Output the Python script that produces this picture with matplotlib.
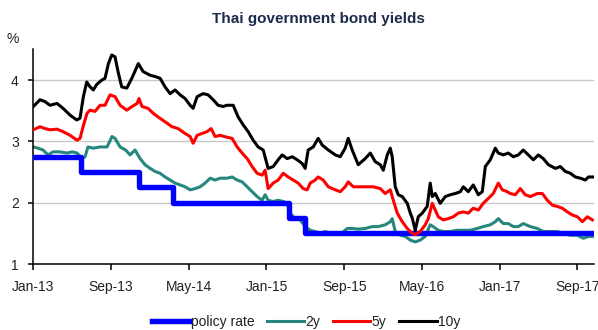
import matplotlib
matplotlib.use('Agg')
import matplotlib.pyplot as plt

plt.rcParams['font.family'] = ['Liberation Sans', 'DejaVu Sans']

# x values: months since Jan-2013
tick_pos = [0, 8, 16, 24, 32, 40, 48, 56]
tick_labels = ['Jan-13', 'Sep-13', 'May-14', 'Jan-15', 'Sep-15', 'May-16', 'Jan-17', 'Sep-17']

# policy rate steps
policy_t = [0.0, 4.93, 10.87, 14.37, 26.33, 27.93, 57.64]
policy_v = [2.75, 2.50, 2.25, 2.00, 1.75, 1.50, 1.50]

# 10y yield
y10_t = [0.0, 0.69, 1.2, 1.72, 2.44, 3.06, 3.78, 4.47, 4.81, 5.15, 5.5, 5.84, 6.18, 6.53, 7.04,
         7.38, 7.73, 8.07, 8.41, 8.76, 9.1, 9.62, 10.14, 10.81, 11.3, 12.02, 12.53, 13.05, 13.56,
         14.08, 14.59, 15.11, 15.62, 16.14, 16.45, 16.86, 17.48, 17.99, 18.51, 19.02, 19.54, 19.92,
         20.57, 21.08, 21.6, 22.11, 22.63, 23.14, 23.66, 24.17, 24.69, 25.2, 25.61, 26.13, 26.65,
         27.16, 27.67, 27.98, 28.29, 28.81, 29.32, 29.74, 30.36, 31.08, 31.59, 32.1, 32.41, 32.82,
         33.44, 34.16, 34.68, 35.19, 35.71, 36.02, 36.43, 36.74, 36.94, 37.25, 37.56, 37.97, 38.49,
         38.8, 39.0, 39.31, 39.62, 40.03, 40.54, 40.85, 41.06, 41.37, 41.88, 42.4, 42.91, 43.43,
         43.95, 44.26, 44.77, 45.28, 45.8, 46.21, 46.52, 47.03, 47.55, 47.86, 48.37, 48.89, 49.4,
         49.92, 50.43, 50.95, 51.46, 51.98, 52.49, 53.01, 53.73, 54.24, 54.76, 55.27, 55.79, 56.3,
         56.82, 57.13, 57.64]
y10_v = [3.57, 3.68, 3.65, 3.59, 3.62, 3.54, 3.43, 3.35, 3.38, 3.73, 3.97, 3.89, 3.84, 3.93, 4.0,
         4.03, 4.27, 4.41, 4.38, 4.11, 3.89, 3.87, 4.03, 4.27, 4.14, 4.08, 4.06, 4.03, 3.89,
         3.78, 3.84, 3.76, 3.70, 3.59, 3.54, 3.73, 3.78, 3.76, 3.68, 3.59, 3.57, 3.59,
         3.59, 3.40, 3.27, 3.16, 3.02, 2.91, 2.86, 2.56, 2.59, 2.70, 2.78, 2.72, 2.75,
         2.70, 2.64, 2.56, 2.86, 2.91, 3.05, 2.94, 2.86, 2.78, 2.75, 2.89, 3.05, 2.86,
         2.62, 2.72, 2.81, 2.67, 2.62, 2.53, 2.78, 2.89, 2.75, 2.26, 2.13, 2.10, 1.99,
         1.83, 1.75, 1.55, 1.77, 1.83, 1.94, 2.32, 2.10, 2.15, 1.99, 2.10, 2.13, 2.15,
         2.18, 2.26, 2.18, 2.29, 2.13, 2.18, 2.59, 2.70, 2.89, 2.81, 2.78, 2.81, 2.75,
         2.78, 2.86, 2.78, 2.70, 2.78, 2.72, 2.62, 2.56, 2.59, 2.51, 2.48, 2.42, 2.40,
         2.37, 2.42, 2.42]

# 5y yield
y5_t = [0.0, 0.69, 1.2, 1.72, 2.44, 3.06, 3.78, 4.5, 4.81, 5.12, 5.53, 5.84, 6.35, 6.87, 7.38,
        7.9, 8.41, 8.93, 9.62, 10.16, 10.68, 10.88, 11.19, 11.81, 12.33, 12.84, 13.56, 14.28,
        14.9, 15.62, 16.14, 16.45, 16.86, 17.37, 17.89, 18.3, 18.71, 19.23, 19.64, 20.46, 20.98,
        21.49, 22.01, 22.52, 23.04, 23.55, 23.86, 24.17, 24.69, 25.2, 25.72, 26.23, 26.75, 27.26,
        27.78, 28.19, 28.5, 29.01, 29.32, 29.84, 30.36, 31.08, 31.59, 32.1, 32.41, 32.93, 33.65,
        34.37, 34.99, 35.71, 36.22, 36.74, 37.05, 37.46, 37.97, 38.49, 39.0, 39.31, 39.82, 40.34,
        40.65, 41.06, 41.37, 41.68, 42.19, 42.71, 43.22, 43.74, 44.26, 44.77, 45.28, 45.8, 46.31,
        46.83, 47.34, 47.86, 48.27, 48.78, 49.09, 49.61, 50.12, 50.64, 51.15, 51.87, 52.39, 52.9,
        53.42, 53.93, 54.45, 54.96, 55.48, 55.99, 56.51, 57.02, 57.54]
y5_v = [3.19, 3.24, 3.21, 3.19, 3.20, 3.16, 3.10, 3.02, 3.05, 3.24, 3.46, 3.51, 3.49, 3.59, 3.59,
        3.76, 3.73, 3.59, 3.51, 3.57, 3.62, 3.70, 3.57, 3.54, 3.46, 3.40, 3.32, 3.24,
        3.21, 3.13, 3.08, 2.97, 3.10, 3.13, 3.16, 3.21, 3.08, 3.10, 3.08, 3.05, 2.91,
        2.81, 2.72, 2.59, 2.48, 2.45, 2.53, 2.23, 2.32, 2.37, 2.48, 2.42, 2.37, 2.32,
        2.23, 2.21, 2.32, 2.37, 2.42, 2.37, 2.26, 2.21, 2.18, 2.26, 2.34, 2.26, 2.26,
        2.26, 2.26, 2.23, 2.15, 2.21, 2.04, 1.83, 1.69, 1.58, 1.50, 1.48, 1.53, 1.64,
        1.74, 1.99, 1.88, 1.77, 1.72, 1.74, 1.77, 1.83, 1.85, 1.83, 1.91, 1.88, 1.99,
        2.07, 2.15, 2.32, 2.21, 2.18, 2.15, 2.13, 2.23, 2.13, 2.10, 2.15, 2.15, 2.04,
        1.96, 1.94, 1.91, 1.85, 1.80, 1.77, 1.69, 1.77, 1.72]

# 2y yield
y2_t = [0.0, 0.48, 1.0, 1.51, 2.03, 2.75, 3.47, 3.99, 4.5, 5.02, 5.32, 5.63, 6.15, 6.87, 7.59,
        8.1, 8.41, 8.93, 9.5, 9.96, 10.47, 10.99, 11.5, 12.02, 12.53, 13.05, 13.56, 14.08, 14.59,
        15.11, 15.62, 16.14, 16.65, 17.17, 17.68, 18.2, 18.71, 19.23, 19.95, 20.46, 20.98, 21.49,
        22.01, 22.52, 23.04, 23.55, 23.86, 24.17, 24.69, 25.2, 25.72, 26.13, 26.44, 26.95, 27.47,
        27.98, 28.5, 29.01, 29.53, 30.05, 30.56, 31.08, 31.8, 32.31, 32.82, 33.44, 34.16, 34.88,
        35.5, 36.22, 36.74, 36.94, 37.25, 37.77, 38.28, 38.8, 39.31, 39.82, 40.34, 40.85, 41.16,
        41.68, 42.19, 42.91, 43.64, 44.26, 44.97, 45.69, 46.31, 47.03, 47.55, 47.86, 48.37, 48.89,
        49.4, 49.92, 50.43, 51.15, 51.87, 52.49, 53.21, 53.93, 54.55, 55.27, 55.99, 56.61, 57.13,
        57.64]
y2_v = [2.91, 2.89, 2.86, 2.78, 2.83, 2.83, 2.81, 2.83, 2.81, 2.72, 2.75, 2.91, 2.89, 2.91, 2.91,
        3.08, 3.05, 2.91, 2.86, 2.78, 2.86, 2.72, 2.62, 2.56, 2.51, 2.48, 2.42, 2.37, 2.32,
        2.29, 2.26, 2.21, 2.23, 2.26, 2.32, 2.40, 2.37, 2.40, 2.40, 2.42, 2.37, 2.34,
        2.26, 2.18, 2.10, 2.04, 2.13, 2.04, 2.02, 2.04, 2.02, 1.99, 1.83, 1.74, 1.72,
        1.61, 1.55, 1.53, 1.50, 1.53, 1.50, 1.50, 1.51, 1.58, 1.58, 1.57, 1.58, 1.61,
        1.61, 1.64, 1.69, 1.74, 1.53, 1.47, 1.45, 1.39, 1.36, 1.39, 1.45, 1.64, 1.61,
        1.55, 1.53, 1.53, 1.55, 1.55, 1.55, 1.58, 1.61, 1.64, 1.69, 1.74, 1.66, 1.66,
        1.61, 1.61, 1.66, 1.61, 1.58, 1.53, 1.53, 1.53, 1.50, 1.47, 1.47, 1.42, 1.45,
        1.45]

text_col = '#222222'

fig = plt.figure(figsize=(5.98, 3.30), dpi=100)
ax = fig.add_axes([0.0557, 0.2, 0.9375, 0.65])

l2, = ax.plot(y2_t, y2_v, color='#26887c', lw=2.2, zorder=2, label='2y')
lp, = ax.plot(policy_t, policy_v, color='#0000ff', lw=3.9, drawstyle='steps-post',
              zorder=3, label='policy rate')
l5, = ax.plot(y5_t, y5_v, color='#ff0000', lw=2.2, zorder=4, label='5y')
l10, = ax.plot(y10_t, y10_v, color='#000000', lw=2.2, zorder=5, label='10y')

ax.set_xlim(0, 57.7)
ax.set_ylim(1, 4.5)
ax.set_xticks(tick_pos)
ax.set_xticklabels(tick_labels)
ax.set_yticks([1, 2, 3, 4])
ax.yaxis.grid(True, color='#c8c8c8', lw=1)
ax.set_axisbelow(True)
for s in ['top', 'right']:
    ax.spines[s].set_visible(False)
for s in ['left', 'bottom']:
    ax.spines[s].set_linewidth(1.1)
ax.tick_params(axis='x', length=4.3, width=1.1, pad=7, labelsize=10, labelcolor=text_col)
ax.tick_params(axis='y', length=3.5, width=1.1, pad=7, labelsize=10, labelcolor=text_col)

fig.text(318 / 598, 1 - 19.5 / 330, 'Thai government bond yields', ha='center', va='center',
         fontsize=11, fontweight='bold', color='#1c2a4d')
fig.text(13 / 598, 1 - 39 / 330, '%', ha='center', va='center', fontsize=10, color=text_col)

fig.legend([lp, l2, l5, l10], ['policy rate', '2y', '5y', '10y'], loc='center',
           bbox_to_anchor=(306 / 598, 1 - 322 / 330), ncol=4, frameon=False, fontsize=10,
           handlelength=2.7, handletextpad=0.1, columnspacing=0.9, labelcolor=text_col)

fig.savefig('out.png', dpi=100)
